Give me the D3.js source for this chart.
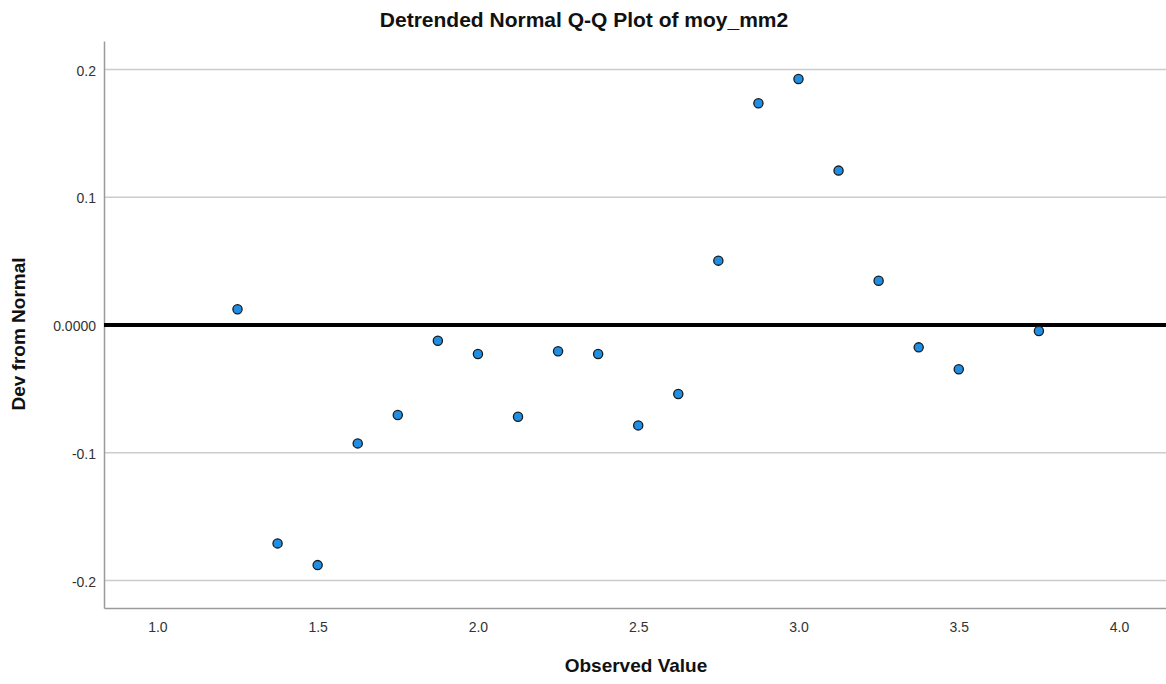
<!doctype html>
<html>
<head>
    <meta charset="utf-8">
    <script src="https://cdn.jsdelivr.net/npm/d3@7"></script>
</head>
<style>
    body { margin: 0; background: #fff; }
    svg text { font-family: "Liberation Sans", Arial, sans-serif; }
    .tick text { fill: #333; font-size: 14px; }
    .title { font-size: 21px; font-weight: bold; fill: #111; }
    .axis-title { font-size: 19px; font-weight: bold; fill: #111; }
</style>
<body>
<script>
    // observed values and their deviation from normal
    var observed = [1.25, 1.375, 1.5, 1.625, 1.75, 1.875, 2.0, 2.125, 2.25, 2.375,
                    2.5, 2.625, 2.75, 2.875, 3.0, 3.125, 3.25, 3.375, 3.5, 3.75];
    var devFromNormal = [0.0123, -0.171, -0.188, -0.0927, -0.0705, -0.0123, -0.0227, -0.0718, -0.0206, -0.0227,
                         -0.0786, -0.054, 0.0504, 0.1736, 0.1926, 0.1209, 0.0347, -0.0175, -0.0347, -0.0047];
    var xTicks = [1.0, 1.5, 2.0, 2.5, 3.0, 3.5, 4.0];
    var yTicks = [-0.2, -0.1, 0.0, 0.1, 0.2];

    var width = 1166, height = 684;
    var margin = {top: 41, right: 0, bottom: 76, left: 104};

    var svg = d3.select("body").append("svg")
        .attr("width", width)
        .attr("height", height);

    var x = d3.scaleLinear()
        .domain([0.8335, 4.1465])
        .range([margin.left, width - margin.right]);

    var y = d3.scaleLinear()
        .domain([-0.2216, 0.2224])
        .range([height - margin.bottom, margin.top]);

    // horizontal grid lines
    svg.append("g")
        .selectAll("line")
        .data(yTicks.filter(function(d) { return d !== 0; }))
        .enter().append("line")
        .attr("x1", margin.left)
        .attr("x2", width - margin.right)
        .attr("y1", function(d) { return y(d); })
        .attr("y2", function(d) { return y(d); })
        .attr("stroke", "#cccccc")
        .attr("stroke-width", 1.5);

    // x axis
    var xAxis = svg.append("g")
        .attr("transform", "translate(0," + (height - margin.bottom) + ")")
        .call(d3.axisBottom(x).tickValues(xTicks).tickSize(0).tickPadding(14)
            .tickFormat(function(d) { return d.toFixed(1); }));
    xAxis.select(".domain").attr("stroke", "#9a9a9a").attr("stroke-width", 1.5);

    // y axis
    var yAxis = svg.append("g")
        .attr("transform", "translate(" + margin.left + ",0)")
        .call(d3.axisLeft(y).tickValues(yTicks).tickSize(0).tickPadding(8)
            .tickFormat(function(d) { return d === 0 ? "0.0000" : d.toFixed(1); }));
    yAxis.select(".domain").attr("stroke", "#9a9a9a").attr("stroke-width", 1.5);
    yAxis.selectAll(".tick text").attr("dy", "0.4em");

    // zero reference line
    svg.append("line")
        .attr("x1", margin.left)
        .attr("x2", width - margin.right)
        .attr("y1", y(0))
        .attr("y2", y(0))
        .attr("stroke", "#000")
        .attr("stroke-width", 4);

    // points
    svg.append("g")
        .selectAll("circle")
        .data(observed)
        .enter().append("circle")
        .attr("cx", function(d) { return x(d); })
        .attr("cy", function(d, i) { return y(devFromNormal[i]); })
        .attr("r", 4.6)
        .attr("fill", "#1e8fe4")
        .attr("stroke", "#1a1a1a")
        .attr("stroke-width", 1.3);

    // titles
    svg.append("text")
        .attr("class", "title")
        .attr("x", 584)
        .attr("y", 27)
        .attr("text-anchor", "middle")
        .text("Detrended Normal Q-Q Plot of moy_mm2");

    svg.append("text")
        .attr("class", "axis-title")
        .attr("x", 636)
        .attr("y", 672)
        .attr("text-anchor", "middle")
        .text("Observed Value");

    svg.append("text")
        .attr("class", "axis-title")
        .attr("transform", "translate(25,334) rotate(-90)")
        .attr("text-anchor", "middle")
        .text("Dev from Normal");
</script>
</body>
</html>
